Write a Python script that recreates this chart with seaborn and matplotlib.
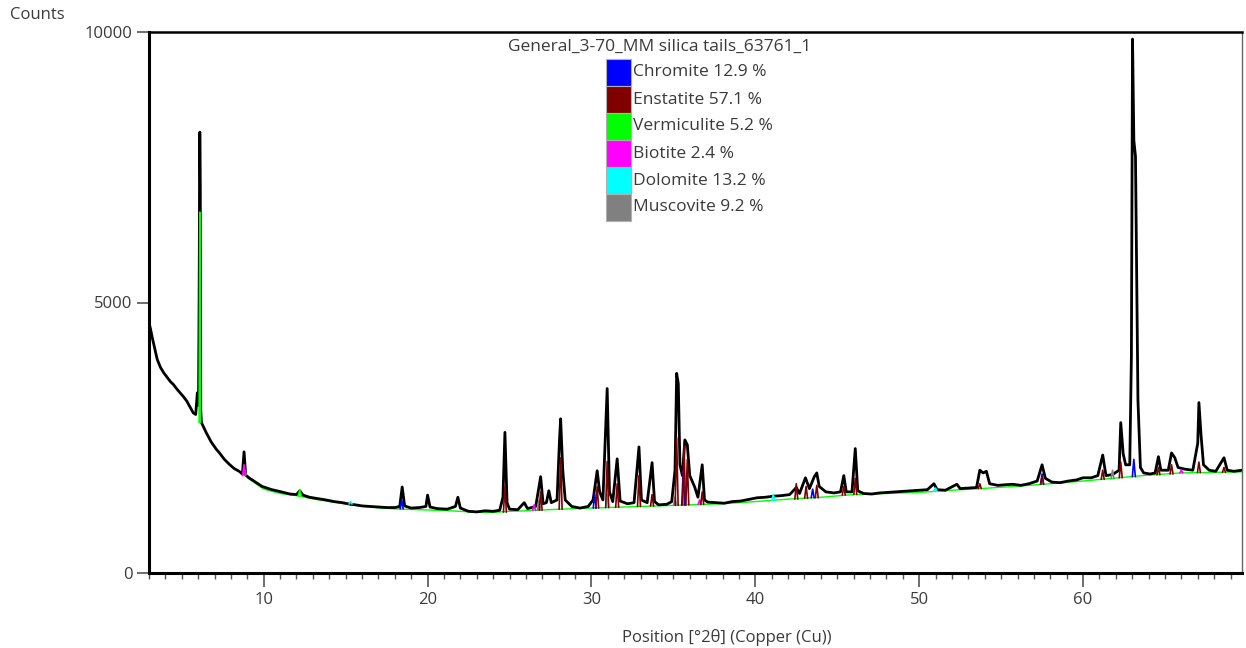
import numpy as np
import pandas as pd
import matplotlib
matplotlib.use("Agg")
import matplotlib.pyplot as plt
from matplotlib.patches import Rectangle
from matplotlib.ticker import MultipleLocator
import seaborn as sns

# ---------------- data ----------------
title = "General_3-70_MM silica tails_63761_1"
phases = ["Chromite", "Enstatite", "Vermiculite", "Biotite", "Dolomite", "Muscovite"]
percent = [12.9, 57.1, 5.2, 2.4, 13.2, 9.2]
phase_colors = ["#0000ff", "#800000", "#00ff00", "#ff00ff", "#00ffff", "#808080"]

x_ticks = [10, 20, 30, 40, 50, 60]
y_ticks = [0, 5000, 10000]

# observed pattern (black)
obs_theta = [3.0, 3.1, 3.2, 3.35, 3.5, 3.7, 3.9, 4.1, 4.3, 4.5, 4.7, 4.9, 5.1, 5.3, 5.5, 5.7, 5.85,
             5.95, 6.02, 6.06, 6.1, 6.13, 6.16, 6.2, 6.5, 6.8, 7.1, 7.3, 7.6, 7.9, 8.2, 8.5, 8.7,
             8.8, 8.9, 9.1, 9.3, 9.6, 9.9, 10.2, 10.5, 10.8, 11.2, 11.6, 12.0, 12.2, 12.4, 12.8,
             13.2, 13.8, 14.3, 14.8, 15.3, 15.6, 16.0, 16.5, 17.0, 17.5, 18.0, 18.3, 18.45, 18.6,
             19.0, 19.5, 19.9, 20.0, 20.15, 20.6, 21.2, 21.7, 21.85, 22.0, 22.5, 23.0, 23.5, 24.0,
             24.4, 24.6, 24.72, 24.85, 25.0, 25.5, 25.9, 26.1, 26.6, 26.9, 27.05, 27.25, 27.4,
             27.55, 27.9, 28.05, 28.12, 28.25, 28.4, 28.8, 29.3, 29.8, 30.1, 30.35, 30.5, 30.7,
             30.96, 31.1, 31.3, 31.57, 31.75, 32.2, 32.6, 32.9, 33.05, 33.4, 33.7, 33.85, 34.1,
             34.6, 34.9, 35.1, 35.2, 35.3, 35.4, 35.55, 35.7, 35.85, 36.0, 36.3, 36.5, 36.76,
             36.9, 37.1, 37.6, 38.1, 38.6, 39.1, 39.6, 40.1, 40.6, 41.1, 41.6, 42.1, 42.5, 42.7,
             43.06, 43.3, 43.6, 43.75, 43.9, 44.3, 44.8, 45.2, 45.4, 45.55, 45.9, 46.1, 46.25,
             46.6, 47.1, 47.6, 48.1, 48.6, 49.1, 49.5, 50.0, 50.5, 50.9, 51.1, 51.6, 52.3, 52.5,
             53.0, 53.5, 53.7, 53.9, 54.1, 54.3, 54.8, 55.2, 55.7, 56.2, 56.7, 57.2, 57.5, 57.7,
             58.1, 58.6, 59.1, 59.6, 60.0, 60.5, 60.9, 61.2, 61.4, 61.8, 62.2, 62.3, 62.45, 62.6,
             62.85, 62.95, 63.02, 63.1, 63.2, 63.28, 63.35, 63.5, 63.7, 64.1, 64.4, 64.6, 64.75,
             65.2, 65.4, 65.6, 65.8, 66.2, 66.7, 67.0, 67.07, 67.2, 67.35, 67.7, 68.1, 68.6, 68.8,
             69.2, 69.7]
obs_counts = [4630, 4500, 4350, 4150, 3950, 3800, 3700, 3620, 3540, 3480, 3400, 3330, 3260, 3180, 3070, 2960, 2930,
              3330, 3100, 5200, 8150, 7200, 3000, 2780, 2590, 2420, 2290, 2220, 2100, 2010, 1930, 1880, 1830,
              2240, 1810, 1760, 1720, 1660, 1600, 1570, 1540, 1520, 1490, 1460, 1450, 1520, 1440, 1400,
              1380, 1350, 1320, 1300, 1270, 1260, 1240, 1230, 1220, 1210, 1210, 1230, 1590, 1240,
              1200, 1210, 1230, 1440, 1220, 1190, 1180, 1230, 1400, 1200, 1140, 1130, 1150, 1140,
              1160, 1400, 2600, 1300, 1180, 1170, 1300, 1190, 1230, 1780, 1280, 1300, 1520,
              1300, 1350, 2460, 2850, 1900, 1350, 1230, 1200, 1230, 1350, 1890, 1500, 1350,
              3410, 1500, 1320, 2110, 1330, 1280, 1300, 2330, 1350, 1300, 2040, 1320, 1260,
              1270, 1320, 1900, 3690, 3500, 2000, 1800, 2460, 2370, 1800, 1590, 1400, 2000,
              1350, 1310, 1300, 1290, 1320, 1330, 1360, 1390, 1400, 1420, 1430, 1450, 1580, 1470,
              1760, 1560, 1780, 1850, 1600, 1500, 1480, 1500, 1800, 1500, 1500, 2300, 1520,
              1470, 1460, 1480, 1490, 1500, 1510, 1520, 1530, 1540, 1650, 1540, 1530, 1640, 1560,
              1570, 1580, 1900, 1850, 1880, 1650, 1620, 1630, 1640, 1620, 1650, 1700, 2000, 1750,
              1680, 1670, 1700, 1720, 1760, 1760, 1800, 2180, 1800, 1820, 1900, 2780, 2200, 2000,
              2000, 4000, 9870, 8000, 7700, 5400, 3200, 1950, 1850, 1830, 1850, 2150, 1900,
              1900, 2220, 2130, 1950, 1920, 1900, 2400, 3150, 2550, 2000, 1900, 1880, 2130, 1900,
              1880, 1900]

# fitted baseline (drawn green, just under the observed background)
fit_bg_theta = [9.0, 10, 11, 12, 13, 14, 15, 16, 17, 18, 19, 20, 21, 22, 23, 24, 25, 26, 27, 28,
                29, 30, 31, 32, 33, 34, 35, 36, 37, 38, 39, 40, 42, 44, 46, 48, 50, 52, 54, 56,
                58, 60, 62, 64, 66, 68, 69.7]
fit_bg_counts = [1760, 1550, 1470, 1430, 1370, 1320, 1275, 1235, 1205, 1185, 1175, 1165, 1155,
                 1140, 1120, 1120, 1140, 1150, 1165, 1178, 1190, 1200, 1210, 1220, 1230, 1240,
                 1250, 1260, 1270, 1280, 1300, 1320, 1365, 1400, 1450, 1470, 1490, 1530, 1565,
                 1605, 1650, 1700, 1755, 1810, 1850, 1860, 1870]

# phase peaks: position [°2θ], peak top and foot [counts]
chromite_pos = [18.42, 30.2, 35.6, 43.5, 57.5, 63.1]
chromite_top = [1350, 1450, 1900, 1550, 1830, 2100]
chromite_foot = [1185, 1200, 1255, 1390, 1640, 1780]

enstatite_pos = [24.72, 26.9, 28.12, 30.35, 30.96, 31.57, 32.9, 33.7, 35.2, 35.65, 35.85, 36.76,
                 42.5, 43.1, 43.75, 45.4, 46.1, 53.7, 57.5, 61.2, 62.3, 64.6, 65.4, 67.07, 68.6]
enstatite_top = [1600, 1500, 2130, 1600, 2060, 1650, 1800, 1450, 2500, 2350, 2100, 1500,
                 1650, 1600, 1620, 1600, 1750, 1650, 1780, 1900, 2050, 1950, 2000, 2050, 1950]
enstatite_foot = [1125, 1160, 1178, 1200, 1210, 1215, 1228, 1237, 1250, 1255, 1258, 1268,
                  1365, 1380, 1390, 1440, 1450, 1560, 1640, 1730, 1760, 1815, 1830, 1855, 1860]

vermiculite_pos = [6.1, 12.2]
vermiculite_top = [6670, 1530]
vermiculite_foot = [2780, 1430]

biotite_pos = [8.8, 26.5, 36.6, 66.0]
biotite_top = [2000, 1260, 1350, 1900]
biotite_foot = [1800, 1155, 1265, 1850]

dolomite_pos = [15.3, 30.96, 41.1, 51.0]
dolomite_top = [1320, 1450, 1450, 1570]
dolomite_foot = [1275, 1210, 1340, 1510]

muscovite_pos = [8.85, 26.8, 35.1, 61.8]
muscovite_top = [1900, 1350, 1400, 1900]
muscovite_foot = [1820, 1160, 1250, 1740]

# ---------------- build peak table ----------------
phase_peaks = {
    "Muscovite": (muscovite_pos, muscovite_top, muscovite_foot),
    "Dolomite": (dolomite_pos, dolomite_top, dolomite_foot),
    "Biotite": (biotite_pos, biotite_top, biotite_foot),
    "Chromite": (chromite_pos, chromite_top, chromite_foot),
    "Vermiculite": (vermiculite_pos, vermiculite_top, vermiculite_foot),
    "Enstatite": (enstatite_pos, enstatite_top, enstatite_foot),
}
half_w = 0.09
rows = []
uid = 0
for ph, (pos, top, foot) in phase_peaks.items():
    for p, t, f in zip(pos, top, foot):
        hw = 0.04 if t - f > 3000 else half_w
        for k, (xx, yy) in enumerate([(p - hw, f), (p, t), (p + hw, f)]):
            rows.append({"phase": ph, "unit": uid, "order": k, "theta": xx, "counts": yy})
        uid += 1
peaks_df = pd.DataFrame(rows)
palette = dict(zip(phases, phase_colors))

# ---------------- figure ----------------
sns.set_theme(style="white")
plt.rcParams["font.family"] = ["Open Sans", "DejaVu Sans"]
text_color = "#3a3a3a"

W, H = 1246, 648
fig = plt.figure(figsize=(W / 100, H / 100), dpi=100)
ax = fig.add_axes([149 / W, 75 / H, (1242 - 149) / W, (573 - 32) / H])

sns.lineplot(x=fit_bg_theta, y=fit_bg_counts, sort=False, estimator=None,
             color=palette["Vermiculite"], linewidth=1.0, ax=ax)
sns.lineplot(x=obs_theta, y=obs_counts, sort=False, estimator=None, color="black",
             linewidth=2.0, ax=ax)
sns.lineplot(data=peaks_df, x="theta", y="counts", hue="phase", units="unit",
             estimator=None, sort=False, palette=palette, linewidth=1.2, legend=False, ax=ax)

ax.set_xlim(3, 69.7)
ax.set_ylim(0, 10000)
ax.set_xticks(x_ticks)
ax.set_yticks(y_ticks)
ax.xaxis.set_minor_locator(MultipleLocator(1))
ax.set_xlabel("")
ax.set_ylabel("")
ax.grid(False)

ax.tick_params(axis="x", which="major", bottom=True, direction="out", length=10, width=1.2,
               color="#555555", labelsize=12, labelcolor=text_color, pad=4)
ax.tick_params(axis="x", which="minor", bottom=True, direction="out", length=4.5, width=1.0,
               color="#555555")
ax.tick_params(axis="y", which="major", left=True, direction="out", length=9, width=1.2,
               color="#555555", labelsize=12, labelcolor=text_color, pad=3)

for side, lw, col in [("left", 2.2, "black"), ("bottom", 2.2, "black"),
                      ("top", 1.8, "black"), ("right", 1.0, "#666666")]:
    ax.spines[side].set_visible(True)
    ax.spines[side].set_linewidth(lw)
    ax.spines[side].set_color(col)

# axis titles
fig.text(10 / W, 1 - 15 / H, "Counts", ha="left", va="center", fontsize=12, color=text_color)
fig.text(727 / W, 1 - 637 / H, "Position [°2θ] (Copper (Cu))", ha="center", va="center",
         fontsize=12, color=text_color)

# legend
fig.text(659.5 / W, 1 - 47 / H, title, ha="center", va="center", fontsize=12.5, color=text_color)
row_h = 27
top0 = 59
for i, (name, p, c) in enumerate(zip(phases, percent, phase_colors)):
    y_top = top0 + row_h * i
    fig.add_artist(Rectangle((606 / W, 1 - (y_top + row_h) / H), 25 / W, row_h / H,
                             transform=fig.transFigure, facecolor=c, edgecolor="#b0b0b0",
                             linewidth=0.8))
    fig.text(633 / W, 1 - (y_top + row_h / 2) / H, f"{name} {p} %", ha="left", va="center",
             fontsize=12.5, color=text_color)

fig.savefig("out.png", dpi=100)
